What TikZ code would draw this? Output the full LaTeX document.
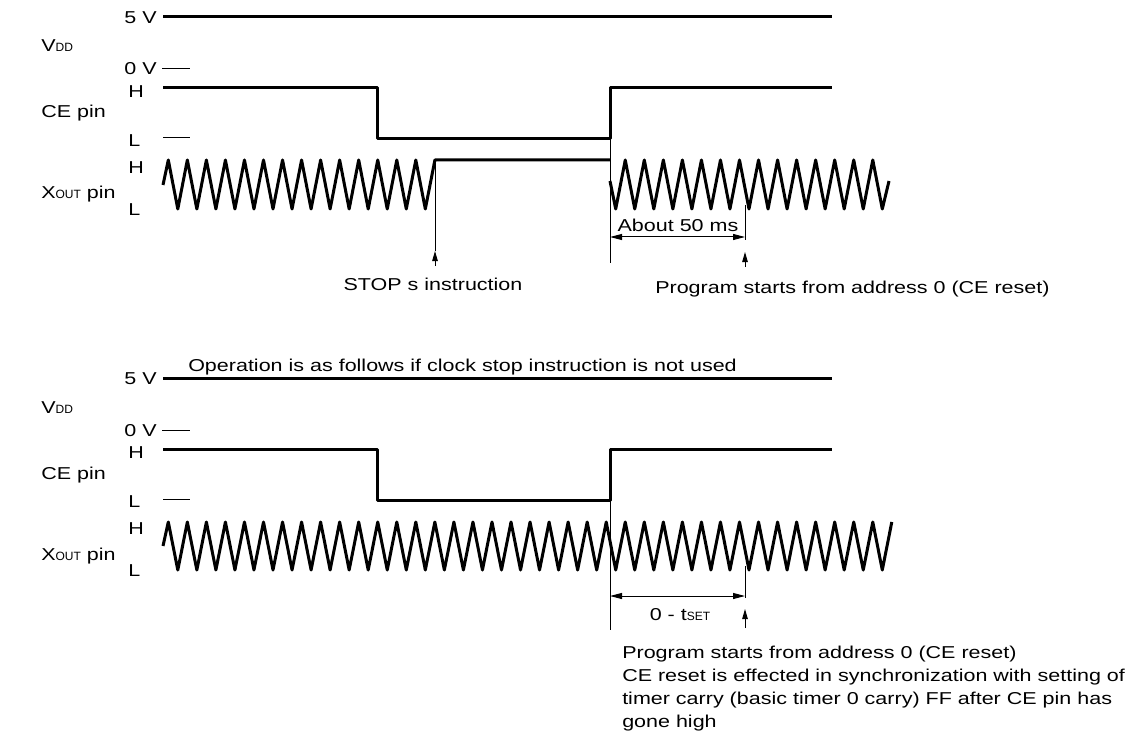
\documentclass[tikz,border=0pt]{standalone}
\usepackage{fontspec}
\setmainfont{Liberation Sans}
\usetikzlibrary{arrows.meta}
\newcommand{\lowtxt}[1]{\scalebox{0.8}[1]{\fontsize{12}{12}\selectfont #1}}
\tikzset{
  every node/.style={font=\fontsize{17.2}{20}\selectfont,inner sep=0pt,xscale=1.25},
  sig/.style={line width=3pt,line join=round},
  thinln/.style={line width=1pt},
  dim/.style={line width=1pt,{Triangle[length=12pt,width=6pt]}-{Triangle[length=12pt,width=6pt]}},
  uparr/.style={line width=1pt,-{Triangle[length=10pt,width=5.5pt]}},
  pin/.style={anchor=base west},
  lvl/.style={anchor=base east},
  hl/.style={anchor=base west},
}
\begin{document}
\begin{tikzpicture}[x=1pt,y=-1pt]
  \useasboundingbox (0,0) rectangle (1127,738);
  % parts shared by both charts
  \foreach \dy in {0,361} {
    \begin{scope}[shift={(0,\dy)}]
      \node[pin] (vdd\dy) at (41,52) {V\lowtxt{DD}};
      \node[pin] (ce\dy) at (41,118) {CE pin};
      \node[pin] (xout\dy) at (41,199) {X\lowtxt{OUT} pin};
      \node[lvl] (fivev\dy) at (157,23.3) {5 V};
      \node[lvl] (zerov\dy) at (157,75) {0 V};
      \node[hl] (ceh\dy) at (128,97.3) {H};
      \node[hl] (cel\dy) at (128,146.7) {L};
      \node[hl] (xh\dy) at (128,173.3) {H};
      \node[hl] (xl\dy) at (128,215) {L};
      \draw[sig] (163,17) -- (832,17);
      \draw[thinln] (162,69) -- (190,69);
      \draw[thinln] (163,138) -- (190,138);
      \draw[sig] (163,88) -- (377,88) -- (377,139) -- (610,139) -- (610,88) -- (832,88);
    \end{scope}
  }
  % upper chart: clock stopped
  \draw[sig] (163,185) \foreach \n in {0,...,13} { -- ({168.3+19.04*\n},160) -- ({177.8+19.04*\n},209) }
    -- (434.9,160) -- (610,160);
  \draw[sig] (610,181) \foreach \n in {23,...,36} { -- ({177.8+19.04*\n},209) -- ({168.3+19.04*(\n+1)},160) }
    -- (882.3,209) -- (889,181);
  \coordinate (stopA) at (435,266);
  \coordinate (stopB) at (435,251);
  \coordinate (stopT) at (435,160);
  \draw[thinln] (stopT) -- (stopB);
  \draw[uparr] (stopA) -- (stopB);
  \node[anchor=base] (stoptxt) at (433,290) {STOP s instruction};
  \coordinate (riseA) at (610,139);
  \coordinate (riseB) at (610,263);
  \draw[thinln] (riseA) -- (riseB);
  \coordinate (dimL) at (610,237);
  \coordinate (dimR) at (745,237);
  \draw[dim] (dimL) -- (dimR);
  \node[anchor=base] (about) at (678,232) {About 50 ms};
  \coordinate (runT) at (745,205);
  \coordinate (runB) at (745,240);
  \draw[thinln] (runT) -- (runB);
  \coordinate (runA) at (745,267);
  \coordinate (runH) at (745,252);
  \draw[uparr] (runA) -- (runH);
  \node[anchor=base west] (progtxt) at (655,293) {Program starts from address 0 (CE reset)};
  % lower chart: clock running
  \node[anchor=base west] (note) at (188,371.5) {Operation is as follows if clock stop instruction is not used};
  \draw[sig] (163,546) \foreach \n in {0,...,37} { -- ({168.3+19.04*\n},522) -- ({177.8+19.04*\n},570) }
    -- (891.8,522);
  \coordinate (rise2A) at (610,500);
  \coordinate (rise2B) at (610,630);
  \draw[thinln] (rise2A) -- (rise2B);
  \coordinate (dim2L) at (610,596);
  \coordinate (dim2R) at (745,596);
  \draw[dim] (dim2L) -- (dim2R);
  \node[anchor=base] (tset) at (680,620) {0 - t\lowtxt{SET}};
  \coordinate (run2T) at (745,566);
  \coordinate (run2B) at (745,598);
  \draw[thinln] (run2T) -- (run2B);
  \coordinate (run2A) at (745,628);
  \coordinate (run2H) at (745,609);
  \draw[uparr] (run2A) -- (run2H);
  \foreach \t [count=\k from 0] in {Program starts from address 0 (CE reset),
      CE reset is effected in synchronization with setting of,
      timer carry (basic timer 0 carry) FF after CE pin has,
      gone high}
    \node[anchor=base west] (line\k) at (622,{658+23.3*\k}) {\t};
\end{tikzpicture}
\end{document}
